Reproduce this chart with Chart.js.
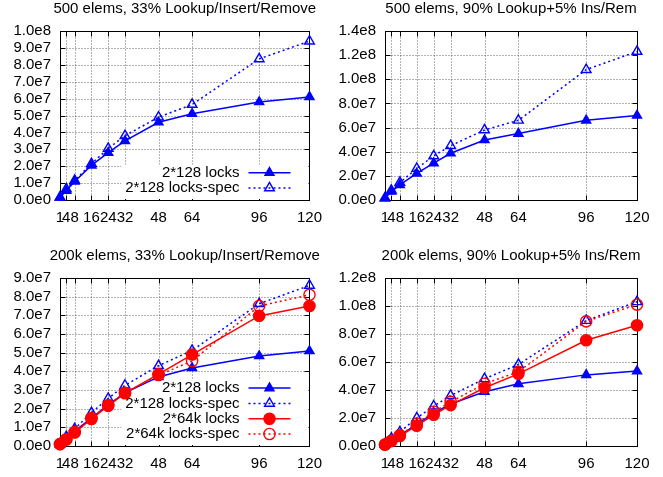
<!DOCTYPE html>
<html>
<head>
<meta charset="utf-8">
<script src="https://cdn.jsdelivr.net/npm/chart.js@4/dist/chart.umd.min.js"></script>
<style>
html,body{margin:0;padding:0;background:#fff;}
.cell{position:absolute;}
</style>
</head>
<body>
<div class="cell" id="c0" style="left:0;top:0;width:331px;height:238px"><canvas id="k0"></canvas></div>
<div class="cell" id="c1" style="left:331px;top:0;width:332px;height:238px"><canvas id="k1"></canvas></div>
<div class="cell" id="c2" style="left:0;top:238px;width:331px;height:239px"><canvas id="k2"></canvas></div>
<div class="cell" id="c3" style="left:331px;top:238px;width:332px;height:239px"><canvas id="k3"></canvas></div>
<script>
// ---- data ----
const threads = [1, 4, 8, 16, 24, 32, 48, 64, 96, 120];
const titles = [
  "500 elems, 33% Lookup/Insert/Remove",
  "500 elems, 90% Lookup+5% Ins/Rem",
  "200k elems, 33% Lookup/Insert/Remove",
  "200k elems, 90% Lookup+5% Ins/Rem"
];
const seriesNames = ["2*128 locks", "2*128 locks-spec", "2*64k locks", "2*64k locks-spec"];

// 500 elems, 33% Lookup/Insert/Remove
const small33_locks = [1.5e6, 5.5e6, 1.1e7, 2.05e7, 2.8e7, 3.5e7, 4.6e7, 5.1e7, 5.8e7, 6.1e7];
const small33_spec  = [1.6e6, 6.5e6, 1.15e7, 2.15e7, 3.05e7, 3.8e7, 4.9e7, 5.65e7, 8.35e7, 9.4e7];
// 500 elems, 90% Lookup
const small90_locks = [1.5e6, 7e6, 1.25e7, 2.2e7, 3.05e7, 3.87e7, 4.97e7, 5.5e7, 6.6e7, 7.0e7];
const small90_spec  = [1.6e6, 8e6, 1.45e7, 2.6e7, 3.65e7, 4.5e7, 5.8e7, 6.6e7, 1.08e8, 1.23e8];
// 200k elems, 33%
const big33_locks128 = [1e6, 4e6, 8e6, 1.5e7, 2.2e7, 2.85e7, 3.7e7, 4.18e7, 4.82e7, 5.09e7];
const big33_spec128  = [1.2e6, 5e6, 9.2e6, 1.78e7, 2.55e7, 3.25e7, 4.3e7, 5.12e7, 7.62e7, 8.6e7];
const big33_locks64k = [1e6, 3.5e6, 7.2e6, 1.45e7, 2.15e7, 2.83e7, 3.85e7, 4.9e7, 6.97e7, 7.5e7];
const big33_spec64k  = [1e6, 3.6e6, 7.5e6, 1.5e7, 2.2e7, 2.85e7, 3.8e7, 4.55e7, 7.5e7, 8.1e7];
// 200k elems, 90%
const big90_locks128 = [1e6, 3.8e6, 7.6e6, 1.55e7, 2.35e7, 3.0e7, 3.87e7, 4.44e7, 5.08e7, 5.35e7];
const big90_spec128  = [1.2e6, 5.5e6, 1.0e7, 2.0e7, 2.85e7, 3.6e7, 4.8e7, 5.82e7, 8.96e7, 1.03e8];
const big90_locks64k = [1e6, 3.5e6, 7.1e6, 1.45e7, 2.23e7, 2.92e7, 4.16e7, 5.15e7, 7.55e7, 8.62e7];
const big90_spec64k  = [1e6, 3.8e6, 7.8e6, 1.6e7, 2.45e7, 3.15e7, 4.45e7, 5.3e7, 8.9e7, 1.01e8];

const yMax  = [1.0e8, 1.4e8, 9.0e7, 1.2e8];
const yStep = [1.0e7, 2.0e7, 1.0e7, 2.0e7];

// ---- styles ----
const FONT = "'Liberation Sans', Arial, sans-serif";
const FS = 15;
const BLUE = '#0000ff', RED = '#ff0000';
const styles = [
  {color: BLUE, dash: [], point: 'triangle', filled: true, r: 5.2},
  {color: BLUE, dash: [2, 3], point: 'triangle', filled: false, r: 5.6},
  {color: RED, dash: [], point: 'circle', filled: true, r: 5.6},
  {color: RED, dash: [2, 3], point: 'circle', filled: false, r: 5.6}
];

function mkDataset(idx, values) {
  const s = styles[idx];
  return {
    label: seriesNames[idx],
    data: threads.map((t, i) => ({x: t, y: values[i]})),
    borderColor: s.color,
    borderWidth: 1.5,
    borderDash: s.dash,
    backgroundColor: s.filled ? s.color : 'rgba(0,0,0,0)',
    pointStyle: s.point,
    pointRadius: s.r,
    pointHoverRadius: s.r,
    pointBorderColor: s.color,
    pointBackgroundColor: s.filled ? s.color : 'rgba(0,0,0,0)',
    pointBorderWidth: 1.4,
    tension: 0,
    fill: false,
    clip: false,
    order: 10 - idx,
    _sty: idx
  };
}

function drawMarker(ctx, sty, x, y) {
  ctx.save();
  ctx.setLineDash([]);
  ctx.lineWidth = 1.4;
  ctx.strokeStyle = sty.color;
  ctx.fillStyle = sty.color;
  ctx.beginPath();
  if (sty.point === 'circle') {
    ctx.arc(x, y, sty.r, 0, Math.PI * 2);
  } else {
    let rad = 0;
    ctx.moveTo(x + Math.sin(rad) * sty.r, y - Math.cos(rad) * sty.r);
    rad += 2 * Math.PI / 3;
    ctx.lineTo(x + Math.sin(rad) * sty.r, y - Math.cos(rad) * sty.r);
    rad += 2 * Math.PI / 3;
    ctx.lineTo(x + Math.sin(rad) * sty.r, y - Math.cos(rad) * sty.r);
  }
  ctx.closePath();
  if (sty.filled) ctx.fill();
  ctx.stroke();
  ctx.restore();
}

const gnuPlugin = {
  id: 'gnu',
  beforeDatasetsDraw(chart, args, opts) {
    const ctx = chart.ctx, a = chart.chartArea;
    const xs = chart.scales.x, ys = chart.scales.y;
    const L = Math.round(a.left) + 0.5, R = Math.round(a.right) + 0.5;
    const T = Math.round(a.top) + 0.5, B = Math.round(a.bottom) + 0.5;
    ctx.save();
    // grid
    ctx.strokeStyle = 'rgba(0,0,0,0.6)';
    ctx.lineWidth = 1;
    ctx.setLineDash([1, 2]);
    xs.ticks.forEach(t => {
      const px = Math.round(xs.getPixelForValue(t.value)) + 0.5;
      ctx.beginPath(); ctx.moveTo(px, T); ctx.lineTo(px, B); ctx.stroke();
    });
    ys.ticks.forEach(t => {
      const py = Math.round(ys.getPixelForValue(t.value)) + 0.5;
      ctx.beginPath(); ctx.moveTo(L, py); ctx.lineTo(R, py); ctx.stroke();
    });
    ctx.setLineDash([]);
    ctx.strokeStyle = '#000';
    // inner tick marks
    const tl = 5;
    xs.ticks.forEach(t => {
      const px = Math.round(xs.getPixelForValue(t.value)) + 0.5;
      ctx.beginPath(); ctx.moveTo(px, B); ctx.lineTo(px, B - tl);
      ctx.moveTo(px, T); ctx.lineTo(px, T + tl); ctx.stroke();
    });
    ys.ticks.forEach(t => {
      const py = Math.round(ys.getPixelForValue(t.value)) + 0.5;
      ctx.beginPath(); ctx.moveTo(L, py); ctx.lineTo(L + tl, py);
      ctx.moveTo(R, py); ctx.lineTo(R - tl, py); ctx.stroke();
    });
    ctx.strokeRect(L, T, R - L, B - T);
    ctx.restore();

    // key (opaque over grid, under data)
    if (opts.showKey) {
      const ds = chart.data.datasets;
      const n = ds.length;
      const step = 15.3;
      const lastY = a.bottom - 12;
      const textX = a.right - 70;
      ctx.save();
      ctx.font = FS + 'px ' + FONT;
      let maxW = 0;
      ds.forEach(d => { maxW = Math.max(maxW, ctx.measureText(d.label).width); });
      const top = lastY - (n - 1) * step - 8;
      ctx.fillStyle = '#fff';
      ctx.fillRect(textX - maxW - 4, top, a.right - 1 - (textX - maxW - 4), a.bottom - 1 - top);
      ds.forEach((d, i) => {
        const y = lastY - (n - 1 - i) * step;
        const sty = styles[d._sty];
        ctx.fillStyle = '#000';
        ctx.textAlign = 'right';
        ctx.textBaseline = 'middle';
        ctx.fillText(d.label, textX, y);
        ctx.strokeStyle = sty.color;
        ctx.lineWidth = 1.5;
        ctx.setLineDash(sty.dash);
        ctx.beginPath(); ctx.moveTo(a.right - 61, y); ctx.lineTo(a.right - 19, y); ctx.stroke();
        ctx.setLineDash([]);
        drawMarker(ctx, sty, a.right - 40, y);
      });
      ctx.restore();
    }
  },
  afterDraw(chart, args, opts) {
    const ctx = chart.ctx, a = chart.chartArea;
    ctx.save();
    ctx.font = FS + 'px ' + FONT;
    ctx.fillStyle = '#000';
    ctx.textAlign = 'center';
    ctx.textBaseline = 'middle';
    ctx.fillText(opts.title, (a.left + a.right) / 2, a.top - 22);
    ctx.restore();
  }
};

function fmtE(v) {
  return Number(v).toExponential(1).replace('+', '');
}

function makeChart(i, datasets, geo) {
  new Chart(document.getElementById('k' + i), {
    type: 'line',
    data: {datasets},
    options: {
      responsive: true,
      maintainAspectRatio: false,
      animation: false,
      events: [],
      layout: {padding: {left: 0, right: geo.padR, top: geo.padT, bottom: 0}},
      plugins: {
        legend: {display: false},
        tooltip: {enabled: false},
        title: {display: false},
        gnu: {title: titles[i], showKey: geo.key}
      },
      scales: {
        x: {
          type: 'linear',
          min: 1, max: 120,
          afterBuildTicks: s => { s.ticks = threads.map(v => ({value: v})); },
          afterFit: s => { s.height = geo.xH; },
          grid: {display: false, drawTicks: false},
          border: {display: false},
          ticks: {
            autoSkip: false, maxRotation: 0, minRotation: 0,
            padding: 9, color: '#000',
            font: {family: FONT, size: FS},
            callback: v => String(v)
          }
        },
        y: {
          type: 'linear',
          min: 0, max: yMax[i],
          afterFit: s => { s.width = geo.yW; },
          grid: {display: false, drawTicks: false},
          border: {display: false},
          ticks: {
            autoSkip: false,
            stepSize: yStep[i], padding: 9, color: '#000',
            font: {family: FONT, size: FS},
            callback: v => fmtE(v)
          }
        }
      }
    },
    plugins: [gnuPlugin]
  });
}

makeChart(0, [mkDataset(0, small33_locks), mkDataset(1, small33_spec)],
  {padR: 19, padT: 31, xH: 38, yW: 60, key: true});
makeChart(1, [mkDataset(0, small90_locks), mkDataset(1, small90_spec)],
  {padR: 26, padT: 31, xH: 38, yW: 54, key: false});
makeChart(2, [mkDataset(0, big33_locks128), mkDataset(1, big33_spec128), mkDataset(2, big33_locks64k), mkDataset(3, big33_spec64k)],
  {padR: 19, padT: 40, xH: 31, yW: 60, key: true});
makeChart(3, [mkDataset(0, big90_locks128), mkDataset(1, big90_spec128), mkDataset(2, big90_locks64k), mkDataset(3, big90_spec64k)],
  {padR: 26, padT: 40, xH: 31, yW: 54, key: false});
</script>
</body>
</html>
